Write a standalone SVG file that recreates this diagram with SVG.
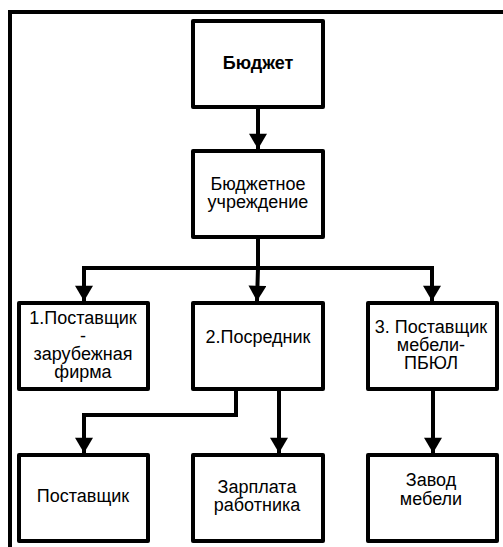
<svg xmlns="http://www.w3.org/2000/svg" width="503" height="547" viewBox="0 0 503 547">
<style>
.box{fill:#fff;stroke:#000;stroke-width:4;stroke-linejoin:round}
.t{font-family:"Liberation Sans",Arial,sans-serif;font-size:18px;fill:#000;text-anchor:middle}
.b{font-weight:bold}
.c{fill:none;stroke:#000;stroke-width:4}
</style>
<defs>
<marker id="ah" markerUnits="userSpaceOnUse" markerWidth="20" markerHeight="18" refX="16" refY="9.5" orient="auto" viewBox="0 0 16 19">
<path d="M0,0 L16,9.5 L0,19 Z" fill="#000"/>
</marker>
</defs>
<rect id="frame" x="10" y="12" width="520" height="560" fill="none" stroke="#000" stroke-width="4"/>
<g id="connectors">
<path class="c" d="M258,109 V149" marker-end="url(#ah)"/>
<path class="c" d="M258,239 V268 L257,301" marker-end="url(#ah)"/>
<path class="c" d="M258,268 H84 V301" marker-end="url(#ah)"/>
<path class="c" d="M258,268 H432 V301" marker-end="url(#ah)"/>
<path class="c" d="M236,391 V415 H84 V453" marker-end="url(#ah)"/>
<path class="c" d="M279,391 V453" marker-end="url(#ah)"/>
<path class="c" d="M433,391 V453" marker-end="url(#ah)"/>
</g>
<g id="n_budget"><rect class="box" x="193" y="21" width="130" height="86"/><text class="t b" x="258" y="69">Бюджет</text></g>
<g id="n_inst"><rect class="box" x="193" y="151" width="130" height="86"/><text class="t" x="258" y="190">Бюджетное</text><text class="t" x="258" y="208">учреждение</text></g>
<g id="n_sup1"><rect class="box" x="19" y="303" width="129" height="86"/><text class="t" x="83" y="324">1.Поставщик</text><text class="t" x="83" y="342">-</text><text class="t" x="83" y="360">зарубежная</text><text class="t" x="83" y="378">фирма</text></g>
<g id="n_mid"><rect class="box" x="193" y="303" width="130" height="86"/><text class="t" x="258" y="343">2.Посредник</text></g>
<g id="n_sup3"><rect class="box" x="368" y="303" width="129" height="86"/><text class="t" x="431" y="333">3. Поставщик</text><text class="t" x="431" y="351">мебели-</text><text class="t" x="431" y="369">ПБЮЛ</text></g>
<g id="n_sup"><rect class="box" x="19" y="455" width="129" height="86"/><text class="t" x="83" y="502">Поставщик</text></g>
<g id="n_pay"><rect class="box" x="193" y="455" width="130" height="86"/><text class="t" x="257" y="493">Зарплата</text><text class="t" x="257" y="511">работника</text></g>
<g id="n_fact"><rect class="box" x="368" y="455" width="129" height="86"/><text class="t" x="431" y="486">Завод</text><text class="t" x="431" y="505">мебели</text></g>
</svg>
